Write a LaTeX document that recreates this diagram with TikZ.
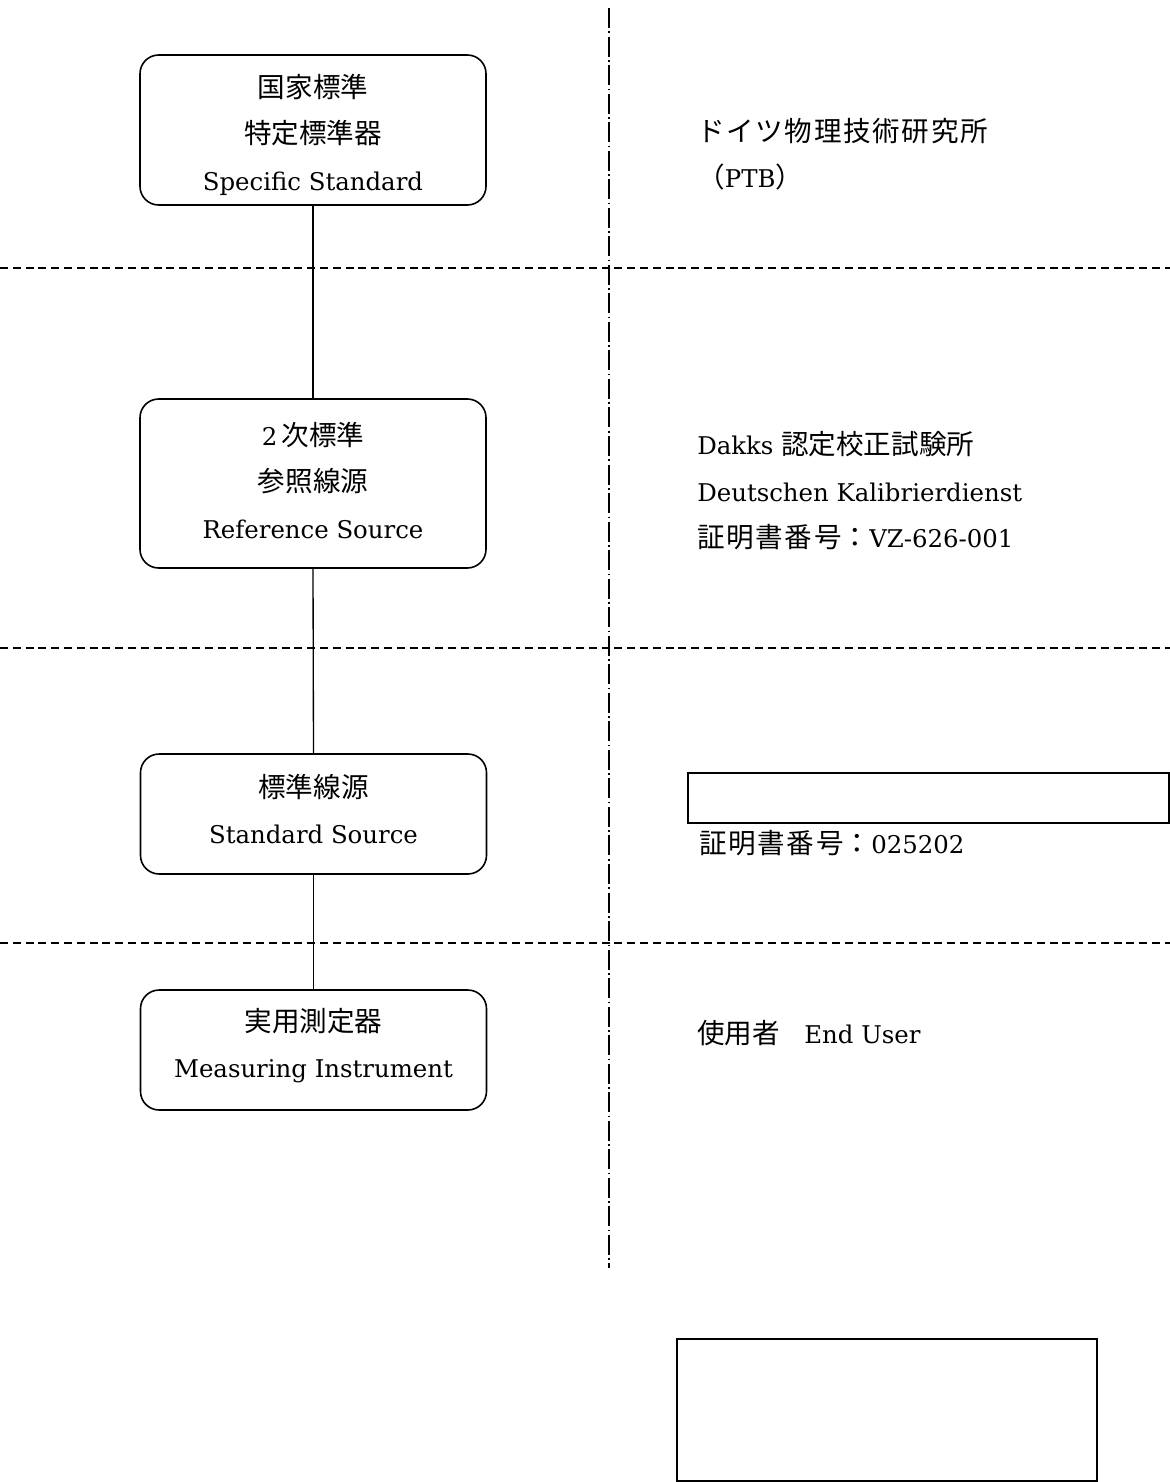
\documentclass[tikz,border=0pt]{standalone}
\usepackage{fontspec}
\setmainfont{DejaVu Serif}
\newfontfamily\cjk{Noto Sans CJK JP}[Scale=1.13]
\newfontfamily\cjkw{Noto Sans CJK JP}[Scale=1.13,LetterSpace=6]
\begin{document}
\begin{tikzpicture}[x=0.75pt,y=-0.75pt,
  lvlbox/.style={draw, line width=1.2pt, rounded corners=14pt, minimum width=259.5pt, inner sep=0pt},
  boxtext/.style={align=center, inner sep=0pt, font=\fontsize{18.3}{34.8}\selectfont},
  rtext/.style={anchor=west, inner sep=0pt, font=\fontsize{18.3}{34.8}\selectfont, align=left},
  sepline/.style={line width=1pt, dash pattern=on 6pt off 3.6pt},
  axisline/.style={line width=1.2pt, dash pattern=on 15pt off 2.6pt on 1.2pt off 2.6pt},
  link/.style={line width=1pt},
  plainbox/.style={draw, line width=1.4pt, inner sep=0pt}]
\useasboundingbox (0,0) rectangle (1170,1482);
\fill[white] (0,0) rectangle (1170,1482);

% separators
\coordinate (s1l) at (0,268); \coordinate (s1r) at (1170,268);
\coordinate (s2l) at (0,648); \coordinate (s2r) at (1170,648);
\coordinate (s3l) at (0,943); \coordinate (s3r) at (1170,943);
\draw[sepline] (s1l) -- (s1r);
\draw[sepline] (s2l) -- (s2r);
\draw[sepline] (s3l) -- (s3r);
\coordinate (vt) at (609,8); \coordinate (vb) at (609,1268);
\draw[axisline] (vt) -- (vb);

% boxes
\node[lvlbox, minimum height=112.5pt] (b1) at (313,130) {};
\node[lvlbox, minimum height=126.75pt] (b2) at (313,483.5) {};
\node[lvlbox, minimum height=90pt] (b3) at (313.5,814) {};
\node[lvlbox, minimum height=90pt] (b4) at (313.5,1050) {};
\node[boxtext] (l1) at (313,134.5) {{\cjk 国家標準}\\{\cjk 特定標準器}\\Specific Standard};
\node[boxtext] (l2) at (313,480.5) {2\,{\cjk 次標準}\\{\cjk 参照線源}\\Reference Source};
\node[boxtext] (l3) at (313.5,809) {{\cjk 標準線源}\\Standard Source};
\node[boxtext] (l4) at (313.5,1045.5) {{\cjk 実用測定器}\\Measuring Instrument};

\draw[link] (b1.south) -- (b2.north);
\draw[link] (b2.south) -- (b3.north);
\draw[link] (b3.south) -- (b4.north);

% right texts
\node[rtext] (t1) at (697,154) {{\cjkw ドイツ物理技術研究所}\\{\cjk （}PTB{\cjk ）}};
\node[rtext] (t2) at (697,491) {Dakks {\cjk 認定校正試験所}\\Deutschen Kalibrierdienst\\{\cjkw 証明書番号}{\cjk ：}VZ-626-001};
\node[plainbox, minimum width=360.75pt, minimum height=37.5pt, anchor=north west] (r1) at (687,772) {};
\node[rtext] (t3) at (699,843) {{\cjkw 証明書番号}{\cjk ：}025202};
\node[rtext] (t4) at (697,1033) {{\cjk 使用者}\quad End User};
\node[plainbox, minimum width=315pt, minimum height=106.5pt, anchor=north west] (r2) at (676,1338) {};
\end{tikzpicture}
\end{document}
